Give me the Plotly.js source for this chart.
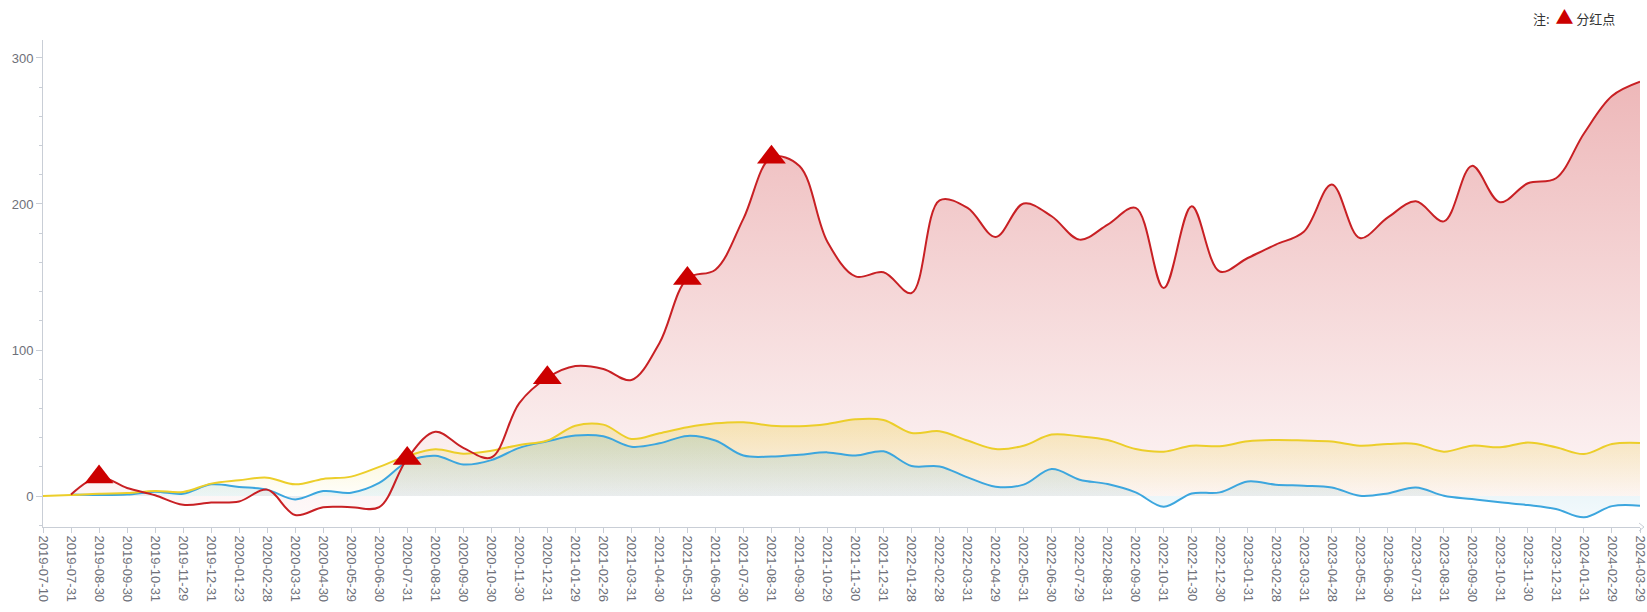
<!DOCTYPE html>
<html>
<head>
<meta charset="utf-8">
<script src="https://cdn.plot.ly/plotly-3.0.1.min.js"></script>
<style>
  html, body { margin: 0; padding: 0; background: #ffffff; }
  #chart { width: 1647px; height: 612px; }
</style>
</head>
<body>
<div id="chart"></div>
<script>
// ---- data ----
const categories = [
  "2019-07-10","2019-07-31","2019-08-30","2019-09-30","2019-10-31","2019-11-29","2019-12-31",
  "2020-01-23","2020-02-28","2020-03-31","2020-04-30","2020-05-29","2020-06-30","2020-07-31",
  "2020-08-31","2020-09-30","2020-10-30","2020-11-30","2020-12-31","2021-01-29","2021-02-26",
  "2021-03-31","2021-04-30","2021-05-31","2021-06-30","2021-07-30","2021-08-31","2021-09-30",
  "2021-10-29","2021-11-30","2021-12-31","2022-01-28","2022-02-28","2022-03-31","2022-04-29",
  "2022-05-31","2022-06-30","2022-07-29","2022-08-31","2022-09-30","2022-10-31","2022-11-30",
  "2022-12-30","2023-01-31","2023-02-28","2023-03-31","2023-04-28","2023-05-31","2023-06-30",
  "2023-07-31","2023-08-31","2023-09-30","2023-10-31","2023-11-30","2023-12-31","2024-01-31",
  "2024-02-29","2024-03-29"
];

// red series
const fundSeries = [
  null, 1, 13, 5.5, 0.5, -6, -4.5, -3.7, 4.4, -13, -7.6, -7.6, -7.6, 25.7, 44, 33, 26.4, 63.7,
  81, 89, 87, 79.5, 104.7, 149, 155, 190, 232, 226, 174, 150.4, 153.2, 139, 202.5, 197.3, 177.4,
  200.3, 191.6, 175.6, 185.9, 197.3, 142.4, 198.4, 153.8, 163, 172.2, 181, 213.4, 176.7, 190.8,
  201.8, 188.1, 226.1, 201.2, 214.2, 217.6, 248.3, 273.9, 283.7
];

// yellow series
const yellowSeries = [
  0, 0.7, 1.6, 2, 3.5, 2.8, 8.5, 10.8, 12.6, 8, 11.7, 13.3, 20, 27.4, 32, 29, 31, 35, 38, 48.2,
  48.9, 39.1, 43, 47.1, 49.8, 50.5, 48.2, 47.8, 49.4, 52.6, 52.1, 43.2, 44.4, 38, 32.2, 34.5,
  42.1, 40.9, 38.4, 32.2, 30.4, 34.5, 34.1, 37.5, 38.4, 38, 37.3, 34.5, 35.7, 35.7, 30.4, 34.5,
  33.4, 36.6, 33.4, 28.8, 35.7, 36.4
];

// blue series
const blueSeries = [
  null, 1, 0.7, 1, 3, 1.6, 8, 6.2, 4.4, -2.3, 3.4, 2.3, 9, 23.4, 27.6, 21.6, 24.6, 33, 37.5,
  41.4, 40.9, 33.8, 36.1, 41.2, 38, 27.7, 27, 28.3, 29.9, 27.7, 30.6, 20.6, 20.3, 12.8, 6.4, 7.8,
  18.5, 11.2, 8.2, 2.5, -7.3, 1.8, 2.5, 10, 7.8, 7.1, 5.9, 0.2, 1.8, 5.9, 0.2, -2.1, -4.3, -6.2,
  -8.9, -14.6, -6.9, -6.6
];

// dividend dates (marked on the red series)
const dividendDates = ["2019-08-30", "2020-07-31", "2020-12-31", "2021-05-31", "2021-08-31"];

const yTickValues = [0, 100, 200, 300];

// ---- styles ----
const RED = "rgb(200,32,36)";
const YELLOW = "rgb(236,206,42)";
const BLUE = "rgb(60,166,222)";
const MARK = "rgb(204,0,0)";
const AXIS = "#c9ced6";
const LABEL = "#6e7079";
const SMOOTH = 1.0;

const idx = categories.map((_, i) => i);

function vals(a) { return a.filter(v => v !== null); }
function fillTrace(y, bottomColor, topColor) {
  const v = vals(y);
  return {
    type: "scatter", mode: "lines", x: idx, y: y,
    line: { width: 0, shape: "spline", smoothing: SMOOTH, color: "rgba(0,0,0,0)" },
    fill: "tozeroy",
    fillgradient: {
      type: "vertical",
      start: Math.min(0, Math.min.apply(null, v)),
      stop: Math.max.apply(null, v),
      colorscale: [[0, bottomColor], [1, topColor]]
    },
    hoverinfo: "skip", showlegend: false
  };
}
function lineTrace(y, color) {
  return {
    type: "scatter", mode: "lines", x: idx, y: y,
    line: { width: 2, shape: "spline", smoothing: SMOOTH, color: color },
    hoverinfo: "skip", showlegend: false
  };
}

const divIdx = dividendDates.map(d => categories.indexOf(d));
const divVal = divIdx.map(i => fundSeries[i]);

const data = [
  fillTrace(fundSeries, "rgba(200,32,36,0.03)", "rgba(200,32,36,0.32)"),
  fillTrace(yellowSeries, "rgba(236,206,42,0.02)", "rgba(236,206,42,0.3)"),
  fillTrace(blueSeries, "rgba(70,170,215,0.07)", "rgba(70,165,160,0.2)"),
  lineTrace(blueSeries, BLUE),
  lineTrace(yellowSeries, YELLOW),
  lineTrace(fundSeries, RED),
  {
    type: "scatter", mode: "markers", x: divIdx, y: divVal,
    marker: { symbol: "triangle-up", size: 25, color: MARK, line: { width: 0 } },
    hoverinfo: "skip", showlegend: false
  }
];

const layout = {
  width: 1647, height: 612,
  paper_bgcolor: "#ffffff", plot_bgcolor: "#ffffff",
  margin: { l: 43, r: 7, t: 40, b: 85, pad: 0 },
  showlegend: false,
  font: { family: "Liberation Sans, Arial, sans-serif", size: 13, color: LABEL },
  xaxis: {
    range: [0, categories.length - 1],
    tickmode: "array", tickvals: idx, ticktext: categories,
    tickangle: 90,
    ticklabeloverflow: "allow",
    ticks: "outside", ticklen: 5, tickwidth: 1, tickcolor: AXIS,
    showline: true, linecolor: AXIS, linewidth: 1,
    showgrid: false, zeroline: false,
    tickfont: { family: "Liberation Sans, Arial, sans-serif", size: 13, color: LABEL },
    fixedrange: true
  },
  yaxis: {
    range: [-21.2, 312.3],
    tickmode: "array", tickvals: yTickValues, ticktext: yTickValues.map(String),
    ticks: "outside", ticklen: 6, tickwidth: 1, tickcolor: AXIS,
    minor: { dtick: 20, tick0: 0, ticks: "outside", ticklen: 3, tickwidth: 1, tickcolor: AXIS, showgrid: false },
    showline: true, linecolor: AXIS, linewidth: 1,
    showgrid: false, zeroline: false,
    tickfont: { family: "Liberation Sans, Arial, sans-serif", size: 13, color: LABEL },
    fixedrange: true
  },
  shapes: [{
    type: "path", xref: "paper", yref: "paper",
    xsizemode: "pixel", ysizemode: "pixel", xanchor: 1, yanchor: 0,
    path: "M -1 4 L 4 0 L -1 -4",
    line: { color: AXIS, width: 1 }
  }],
  annotations: [{
    xref: "paper", yref: "paper", x: 1, y: 1, xanchor: "right", yanchor: "middle",
    xshift: -23, yshift: 24, showarrow: false,
    text: '注:  <span style="color:' + MARK + ';font-size:18px">▲</span> 分红点',
    font: { family: "Noto Sans CJK SC, sans-serif", size: 13, color: "#333333" }
  }]
};

Plotly.newPlot("chart", data, layout, { displayModeBar: false, staticPlot: true });
</script>
</body>
</html>
